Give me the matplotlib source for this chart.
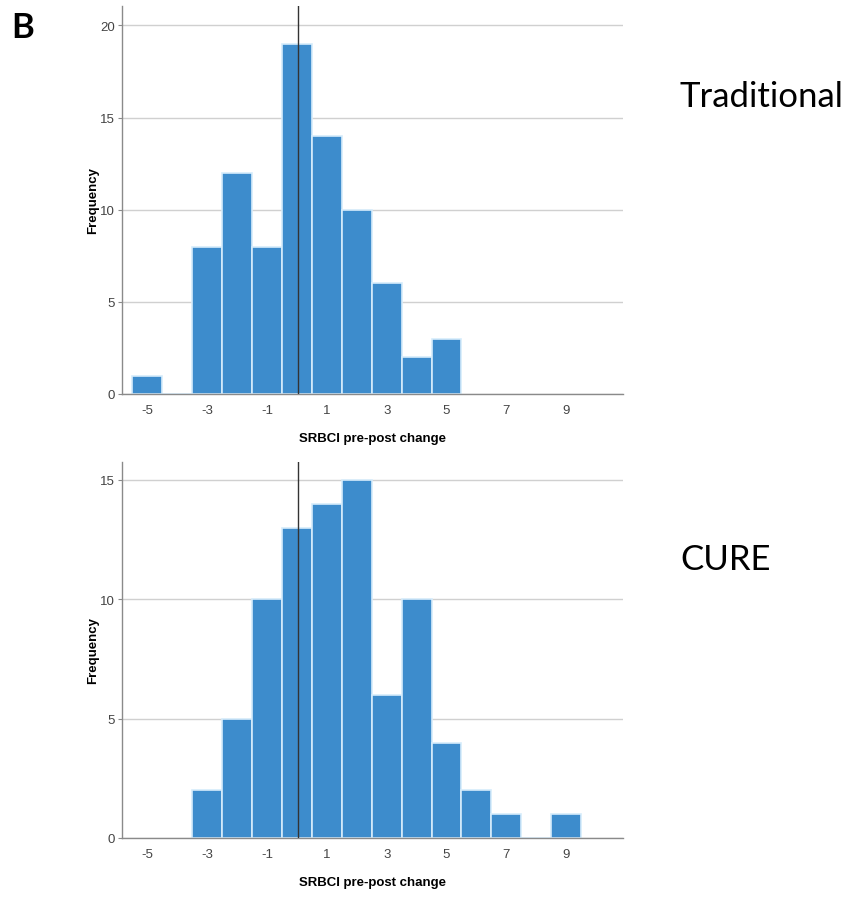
import numpy as np
import matplotlib.pyplot as plt

plt.rcParams['axes.unicode_minus'] = False
plt.rcParams['font.family'] = ['Liberation Sans', 'DejaVu Sans']

# bins centred on integer change scores
trad_bins = [-5, -4, -3, -2, -1, 0, 1, 2, 3, 4, 5]
trad_counts = [1, 0, 8, 12, 8, 19, 14, 10, 6, 2, 3]

cure_bins = [-3, -2, -1, 0, 1, 2, 3, 4, 5, 6, 7, 8, 9]
cure_counts = [2, 5, 10, 13, 14, 15, 6, 10, 4, 2, 1, 0, 1]

x_ticks = [-5, -3, -1, 1, 3, 5, 7, 9]
trad_mean = 0.02
cure_mean = 0.05

bar_color = '#3d8ccc'
edge_color = '#d6ecfb'
grid_color = '#d0d0d0'
spine_color = '#8a8a8a'

W, H = 854, 903
fig = plt.figure(figsize=(W / 100, H / 100), dpi=100)


def px_axes(left, top, right, bottom):
    return fig.add_axes([left / W, 1 - bottom / H, (right - left) / W, (bottom - top) / H])


def draw_hist(ax, bins, counts, mean, ymax, yticks):
    ax.bar(bins, counts, width=1.0, color=bar_color, edgecolor=edge_color, linewidth=1.2, zorder=2)
    ax.axvline(mean, color='#333333', linewidth=1.0, zorder=3)
    ax.set_xlim(-5.85, 10.9)
    ax.set_ylim(0, ymax)
    ax.set_xticks(x_ticks)
    ax.set_yticks(yticks)
    ax.yaxis.grid(True, color=grid_color, linewidth=1.0, zorder=0)
    ax.set_axisbelow(True)
    for s in ['top', 'right']:
        ax.spines[s].set_visible(False)
    for s in ['left', 'bottom']:
        ax.spines[s].set_color(spine_color)
        ax.spines[s].set_linewidth(1.0)
    ax.tick_params(axis='x', length=0, pad=7, labelsize=9.5, labelcolor='#444444')
    ax.tick_params(axis='y', length=3, color=spine_color, pad=2, labelsize=9.5, labelcolor='#444444')
    ax.set_xlabel('SRBCI pre-post change', fontsize=9.5, fontweight='bold', labelpad=12)
    ax.set_ylabel('Frequency', fontsize=9.5, fontweight='bold', labelpad=1)


ax1 = px_axes(122, 7, 623, 395)
draw_hist(ax1, trad_bins, trad_counts, trad_mean, 21.05, [0, 5, 10, 15, 20])

ax2 = px_axes(122, 463, 623, 839)
draw_hist(ax2, cure_bins, cure_counts, cure_mean, 15.75, [0, 5, 10, 15])

fig.text(680 / W, 1 - 97 / H, 'Traditional', fontsize=25, family='Lato', va='center', ha='left')
fig.text(680 / W, 1 - 560 / H, 'CURE', fontsize=25, family='Lato', va='center', ha='left')
fig.text(11 / W, 1 - 28 / H, 'B', fontsize=25, fontweight='bold', family='Lato', va='center', ha='left')

plt.savefig('out.png', dpi=100)
